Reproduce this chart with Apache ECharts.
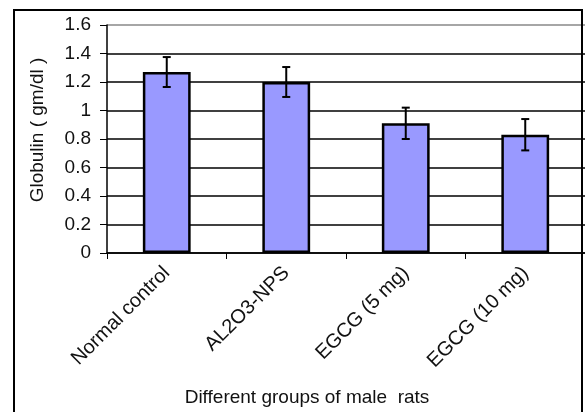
<!DOCTYPE html>
<html>
<head>
<meta charset="utf-8">
<script src="https://cdn.jsdelivr.net/npm/echarts@6/dist/echarts.min.js"></script>
<style>
html,body{margin:0;padding:0;background:#fff;}
#c{width:585px;height:412px;}
</style>
</head>
<body>
<div id="c"></div>
<script>
const categories = ['Normal control', 'AL2O3-NPS', 'EGCG (5 mg)', 'EGCG (10 mg)'];
const globulin = [1.27, 1.20, 0.91, 0.83];
const errors = [0.105, 0.105, 0.11, 0.11];
const yTicks = [0, 0.2, 0.4, 0.6, 0.8, 1, 1.2, 1.4, 1.6];

const chart = echarts.init(document.getElementById('c'), null, {renderer: 'canvas'});
const font = 'Liberation Sans, Arial, sans-serif';

const errData = categories.map((c, i) => [i, globulin[i] - errors[i], globulin[i] + errors[i]]);

chart.setOption({
  animation: false,
  backgroundColor: '#fff',
  grid: {left: 107, top: 25, bottom: 159, right: -16, containLabel: false},
  xAxis: {
    type: 'category',
    data: categories,
    boundaryGap: true,
    axisLine: {show: true, lineStyle: {color: '#000', width: 1.5}},
    axisTick: {show: true, length: 6, inside: false, lineStyle: {color: '#000'}},
    axisLabel: {interval: 0, rotate: 45, fontFamily: font, fontSize: 20, color: '#111', margin: 17}
  },
  yAxis: {
    type: 'value',
    min: 0, max: 1.6, interval: 0.2,
    name: 'Globulin ( gm/dl )',
    nameLocation: 'middle',
    nameGap: 60,
    nameTextStyle: {fontFamily: font, fontSize: 19, color: '#111', padding: [0, 0, 0, 18]},
    axisLine: {show: true, lineStyle: {color: '#000', width: 1.5}},
    axisTick: {show: true, length: 7, lineStyle: {color: '#000'}},
    axisLabel: {fontFamily: font, fontSize: 19, color: '#111', margin: 16,
      formatter: v => String(yTicks.find(t => Math.abs(t - v) < 1e-9) ?? v)},
    splitLine: {show: true, lineStyle: {color: ['#000','#000','#000','#000','#000','#000','#000','#000','#888'], width: 1.5}}
  },
  series: [
    {
      type: 'bar',
      data: globulin,
      barWidth: '40%',
      itemStyle: {color: '#9999FF', borderColor: '#000', borderWidth: 2.5}
    },
    {
      type: 'custom',
      data: errData,
      z: 10,
      renderItem: function (params, api) {
        const x = api.value(0);
        const lo = api.coord([x, api.value(1)]);
        const hi = api.coord([x, api.value(2)]);
        const cap = 4;
        const st = {stroke: '#000', lineWidth: 2};
        return {
          type: 'group',
          children: [
            {type: 'line', shape: {x1: lo[0], y1: lo[1], x2: hi[0], y2: hi[1]}, style: st},
            {type: 'line', shape: {x1: lo[0] - cap, y1: lo[1], x2: lo[0] + cap, y2: lo[1]}, style: st},
            {type: 'line', shape: {x1: hi[0] - cap, y1: hi[1], x2: hi[0] + cap, y2: hi[1]}, style: st}
          ]
        };
      }
    }
  ],
  graphic: [
    {type: 'rect', shape: {x: 14, y: 10, width: 568, height: 410}, style: {fill: null, stroke: '#000', lineWidth: 2}, z: 100},
    {type: 'text', x: 307, y: 398, style: {text: 'Different groups of male  rats', font: '19px ' + font, fill: '#111', textAlign: 'center', textVerticalAlign: 'middle'}}
  ]
});
</script>
</body>
</html>
